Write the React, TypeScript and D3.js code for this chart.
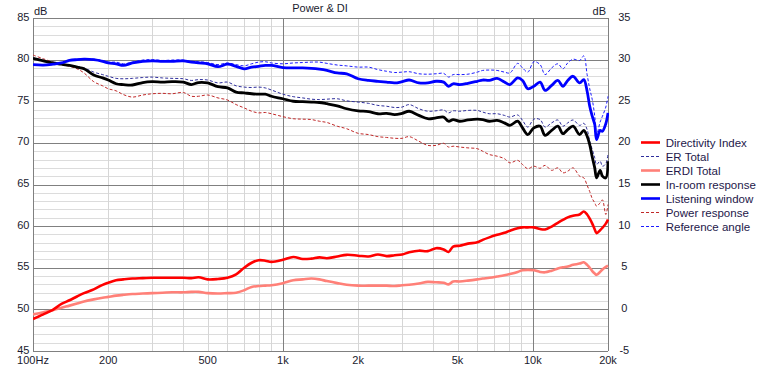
import React from 'react';
import * as d3 from 'd3';

// frequency grid shared by every curve (Hz)
const freqs = [
  100, 110, 120, 130, 140, 150, 160, 175, 190, 200,
  215, 230, 250, 275, 300, 330, 360, 400, 430, 460,
  500, 550, 600, 650, 700, 750, 800, 850, 900, 1000,
  1100, 1200, 1300, 1400, 1500, 1650, 1800, 2000, 2200, 2400,
  2600, 2800, 3000, 3200, 3500, 3800, 4100, 4400, 4600, 4800,
  5100, 5500, 6000, 6300, 6700, 7200, 7700, 8100, 8700, 9100,
  9550, 10100, 10700, 11200, 11900, 12600, 13200, 13800, 14500, 15400,
  16000, 16500, 16900, 17300, 17700, 18000, 18600, 19000, 19600, 20000,
];

// right axis (dB)
const directivityIndex = [
  -1.15, -0.6, -0.05, 0.65, 1.1, 1.55, 1.95, 2.4, 2.95, 3.2,
  3.5, 3.6, 3.7, 3.75, 3.8, 3.8, 3.8, 3.8, 3.75, 3.85,
  3.6, 3.65, 3.8, 4.2, 5.0, 5.6, 5.9, 5.85, 5.7, 5.95,
  6.3, 6.05, 6.1, 6.25, 6.15, 6.35, 6.55, 6.45, 6.35, 6.6,
  6.4, 6.5, 6.6, 6.85, 7.05, 7.0, 7.35, 7.2, 6.9, 7.55,
  7.65, 7.9, 8.05, 8.35, 8.65, 8.95, 9.2, 9.45, 9.75, 9.85,
  9.85, 9.85, 9.65, 9.6, 9.95, 10.4, 10.75, 11.05, 11.25, 11.4,
  11.75, 11.4, 10.9, 10.3, 9.6, 9.15, 9.5, 9.8, 10.3, 10.8,
];

const erdiTotal = [
  -0.6, -0.35, -0.1, 0.2, 0.45, 0.7, 0.95, 1.2, 1.4, 1.5,
  1.65, 1.75, 1.85, 1.9, 1.95, 2.0, 2.05, 2.05, 2.1, 2.1,
  1.95, 1.9, 1.95, 2.0, 2.3, 2.7, 2.8, 2.85, 2.9, 3.15,
  3.5, 3.6, 3.7, 3.6, 3.4, 3.15, 2.95, 2.85, 2.85, 2.85,
  2.85, 2.8, 2.9, 2.95, 3.1, 3.3, 3.25, 3.2, 3.0, 3.35,
  3.35, 3.45, 3.6, 3.7, 3.8, 3.95, 4.1, 4.25, 4.5, 4.7,
  4.75, 4.7, 4.5, 4.45, 4.65, 4.9, 5.05, 5.15, 5.35, 5.5,
  5.65, 5.35, 5.0, 4.6, 4.3, 4.15, 4.5, 4.8, 5.1, 5.25,
];

// left axis (dB)
const erTotal = [
  80.2, 79.95, 79.7, 79.5, 79.35, 79.2, 79.0, 78.5, 78.2, 78.0,
  77.75, 77.7, 77.75, 77.85, 77.9, 77.8, 77.75, 77.7, 77.5, 77.6,
  77.55, 77.2, 77.3, 76.85, 76.7, 76.65, 76.7, 76.6, 76.35, 75.85,
  75.55, 75.4, 75.25, 75.2, 75.25, 75.3, 75.05, 74.9, 74.75, 74.5,
  74.4, 74.25, 74.3, 74.6, 74.1, 73.8, 73.85, 73.95, 73.6, 73.85,
  73.8, 73.9, 73.9, 73.7, 73.5, 73.5, 73.3, 73.1, 73.35, 72.7,
  71.9, 72.85, 72.8, 71.9, 72.4, 72.75, 72.0, 72.4, 72.75, 72.1,
  72.35, 71.6, 70.2, 69.2, 68.2, 67.4, 67.8, 67.2, 67.5, 68.7,
];

const inRoom = [
  80.15, 79.85, 79.6, 79.45, 79.3, 79.1, 78.9, 78.15, 77.8, 77.55,
  77.1, 77.0, 76.95, 77.25, 77.35, 77.3, 77.35, 77.3, 77.0, 77.25,
  77.2, 76.75, 76.6, 76.1, 76.0, 75.9, 75.85, 75.85, 75.6, 75.3,
  75.0, 74.95, 74.9, 74.85, 74.7, 74.45, 74.1, 73.85, 73.75, 73.5,
  73.55, 73.4, 73.55, 73.8, 73.3, 72.9, 73.0, 73.1, 72.6, 72.8,
  72.6, 72.75, 72.85, 72.8, 72.6, 72.7, 72.4, 72.1, 72.6, 71.8,
  71.0, 71.8, 72.0, 70.9, 71.5, 72.0, 71.1, 71.6, 72.0, 71.0,
  71.5, 70.8, 69.8, 68.3, 67.0, 65.8, 66.7, 66.0, 65.8, 67.8,
];

const listeningWindow = [
  79.4, 79.35, 79.45, 79.6, 79.9, 80.0, 80.05, 80.0, 79.8, 79.6,
  79.5, 79.3, 79.6, 79.8, 79.85, 79.8, 79.8, 79.85, 79.7, 79.6,
  79.5, 79.15, 79.45, 79.2, 78.9, 79.1, 79.2, 79.3, 79.3, 79.05,
  79.0, 79.0, 78.95, 78.85, 78.7, 78.4, 78.3, 77.7, 77.5, 77.4,
  77.3, 77.2, 77.35, 77.55, 77.2, 77.2, 77.4, 77.3, 76.8, 77.1,
  77.0, 77.15, 77.4, 77.55, 77.5, 77.75, 77.3, 77.0, 77.8, 77.5,
  76.5, 76.8, 77.3, 76.3, 76.9, 77.5, 76.8, 77.5, 78.0, 77.2,
  77.6, 76.2, 74.4, 73.2, 72.2, 70.4, 71.5, 71.4, 72.3, 73.6,
];

const powerResponse = [
  80.55, 80.1, 79.7, 79.4, 79.2, 78.9, 78.4, 77.35, 76.85, 76.5,
  76.25, 75.8, 75.5, 75.75, 75.9, 75.95, 75.9, 76.05, 75.6, 75.6,
  75.75, 75.4, 75.15, 74.6, 74.2, 73.8, 73.6, 73.65, 73.5, 73.15,
  72.9, 72.85, 72.8, 72.6, 72.45, 72.0, 71.7, 71.15, 71.0, 70.75,
  70.65, 70.55, 70.55, 70.75, 70.2, 69.7, 69.7, 69.95, 69.5, 69.6,
  69.5, 69.4, 69.3, 69.0, 68.6, 68.4, 68.1, 67.6, 67.9, 67.4,
  66.9, 67.2, 66.95, 67.3, 66.7, 67.0, 66.4, 66.6, 67.0, 66.0,
  65.8, 64.9, 64.15, 63.3, 62.8, 62.4, 62.8, 63.15, 61.4, 62.6,
];

const referenceAngle = [
  79.4, 79.35, 79.45, 79.6, 79.95, 80.05, 80.1, 80.05, 79.9, 79.7,
  79.7, 79.5, 79.7, 79.95, 80.0, 79.9, 79.95, 79.95, 79.8, 79.75,
  79.65, 79.4, 79.6, 79.4, 79.25, 79.5, 79.7, 79.75, 79.6, 79.5,
  79.6, 79.65, 79.7, 79.7, 79.55, 79.35, 79.25, 79.1, 79.1, 78.8,
  78.6, 78.45, 78.5, 78.55, 78.3, 78.25, 78.3, 78.35, 77.9, 78.2,
  78.2, 78.25, 78.5, 78.7, 78.75, 78.7, 78.5, 78.4, 79.55, 79.0,
  78.5, 79.75, 79.4, 78.2, 79.0, 79.5, 78.9, 79.6, 80.05, 79.9,
  80.45, 78.2, 76.5, 75.2, 73.2, 71.0, 72.5, 73.2, 74.3, 75.6,
];

const xTicks = [100, 200, 500, 1000, 2000, 5000, 10000, 20000];
const xTickLabels = ['100Hz', '200', '500', '1k', '2k', '5k', '10k', '20k'];
const xMinor = [200, 300, 400, 500, 600, 700, 800, 900, 2000, 3000, 4000, 5000, 6000, 7000, 8000, 9000];
const leftTicks = [85, 80, 75, 70, 65, 60, 55, 50, 45];
const rightTicks = [35, 30, 25, 20, 15, 10, 5, 0, -5];

const W = 760, H = 369;
const left = 33, right = 608, top = 18, bottom = 351;
const font = '"Liberation Sans", Arial, sans-serif';

const x = d3.scaleLog().domain([100, 20000]).range([left, right]);
const yL = d3.scaleLinear().domain([45, 85]).range([bottom, top]);
const yR = d3.scaleLinear().domain([-5, 35]).range([bottom, top]);

const series = [
  { name: 'Directivity Index', values: directivityIndex, axis: 'R', color: '#ff0000', width: 2.6, dash: null, z: 5 },
  { name: 'ER Total', values: erTotal, axis: 'L', color: '#2e2e9c', width: 1, dash: '3,2', z: 1 },
  { name: 'ERDI Total', values: erdiTotal, axis: 'R', color: '#ff8078', width: 2.6, dash: null, z: 4 },
  { name: 'In-room response', values: inRoom, axis: 'L', color: '#000000', width: 2.8, dash: null, z: 6 },
  { name: 'Listening window', values: listeningWindow, axis: 'L', color: '#0000ff', width: 2.8, dash: null, z: 7 },
  { name: 'Power response', values: powerResponse, axis: 'L', color: '#c02828', width: 1, dash: '3,2', z: 2 },
  { name: 'Reference angle', values: referenceAngle, axis: 'L', color: '#1c1cff', width: 1, dash: '3,2', z: 3 },
];

function pathFor(values: number[], axis: string) {
  const y = axis === 'L' ? yL : yR;
  const line = d3.line<number>()
    .x((_, i) => x(freqs[i]))
    .y((d) => y(d))
    .curve(d3.curveCatmullRom.alpha(0.5));
  return line(values) || '';
}

export default function App() {
  const hLines = d3.range(45, 86);
  const drawOrder = [...series].sort((a, b) => a.z - b.z);

  return (
    <svg width={W} height={H} style={{ position: 'absolute', left: 0, top: 0, background: '#fff' }}
      fontFamily={font}>
      <rect x={0} y={0} width={W} height={H} fill="#fff" />

      {/* minor grid */}
      {hLines.filter((v) => v % 5 !== 0).map((v) => (
        <line key={'h' + v} x1={left} x2={right} y1={Math.round(yL(v)) + 0.5} y2={Math.round(yL(v)) + 0.5}
          stroke="#dcdcdc" strokeWidth={1} />
      ))}
      {xMinor.map((f) => (
        <line key={'v' + f} x1={Math.round(x(f)) + 0.5} x2={Math.round(x(f)) + 0.5} y1={top} y2={bottom}
          stroke="#d6d6d6" strokeWidth={1} />
      ))}

      {/* major grid */}
      {hLines.filter((v) => v % 5 === 0).map((v) => (
        <line key={'H' + v} x1={left} x2={right} y1={Math.round(yL(v)) + 0.5} y2={Math.round(yL(v)) + 0.5}
          stroke="#808080" strokeWidth={1} />
      ))}
      {[100, 1000, 10000, 20000].map((f) => (
        <line key={'V' + f} x1={Math.round(x(f)) + 0.5} x2={Math.round(x(f)) + 0.5} y1={top} y2={bottom}
          stroke="#808080" strokeWidth={1} />
      ))}

      {/* curves */}
      <g clipPath="url(#plotClip)">
        {drawOrder.map((s) => (
          <path key={s.name} d={pathFor(s.values, s.axis)} fill="none" stroke={s.color}
            strokeWidth={s.width} strokeDasharray={s.dash || undefined} strokeLinejoin="round" />
        ))}
      </g>
      <defs>
        <clipPath id="plotClip">
          <rect x={left} y={top} width={right - left + 1} height={bottom - top} />
        </clipPath>
      </defs>

      {/* axis labels */}
      <g fontSize={11} fill="#1a1a2e">
        {leftTicks.map((v) => (
          <text key={'l' + v} x={29.5} y={yL(v) + 2.5} textAnchor="end">{v}</text>
        ))}
        {rightTicks.map((v) => (
          <text key={'r' + v} x={624.3} y={yR(v) + 2.5} textAnchor="middle">{v}</text>
        ))}
        {xTicks.map((f, i) => (
          <text key={'x' + f} x={x(f)} y={364} textAnchor="middle">{xTickLabels[i]}</text>
        ))}
        <text x={34} y={15}>dB</text>
        <text x={606} y={15} textAnchor="end">dB</text>
        <text x={320} y={12} textAnchor="middle">Power &amp; DI</text>
      </g>

      {/* legend */}
      <g fontSize={11.5}>
        {series.map((s, i) => {
          const cy = 142.5 + i * 14;
          return (
            <g key={'lg' + s.name}>
              <line x1={641} x2={660} y1={cy} y2={cy} stroke={s.color}
                strokeWidth={s.dash ? 1 : 2.6} strokeDasharray={s.dash || undefined} />
              <text x={665.7} y={cy + 4} fill="#24184a">{s.name}</text>
            </g>
          );
        })}
      </g>
    </svg>
  );
}
